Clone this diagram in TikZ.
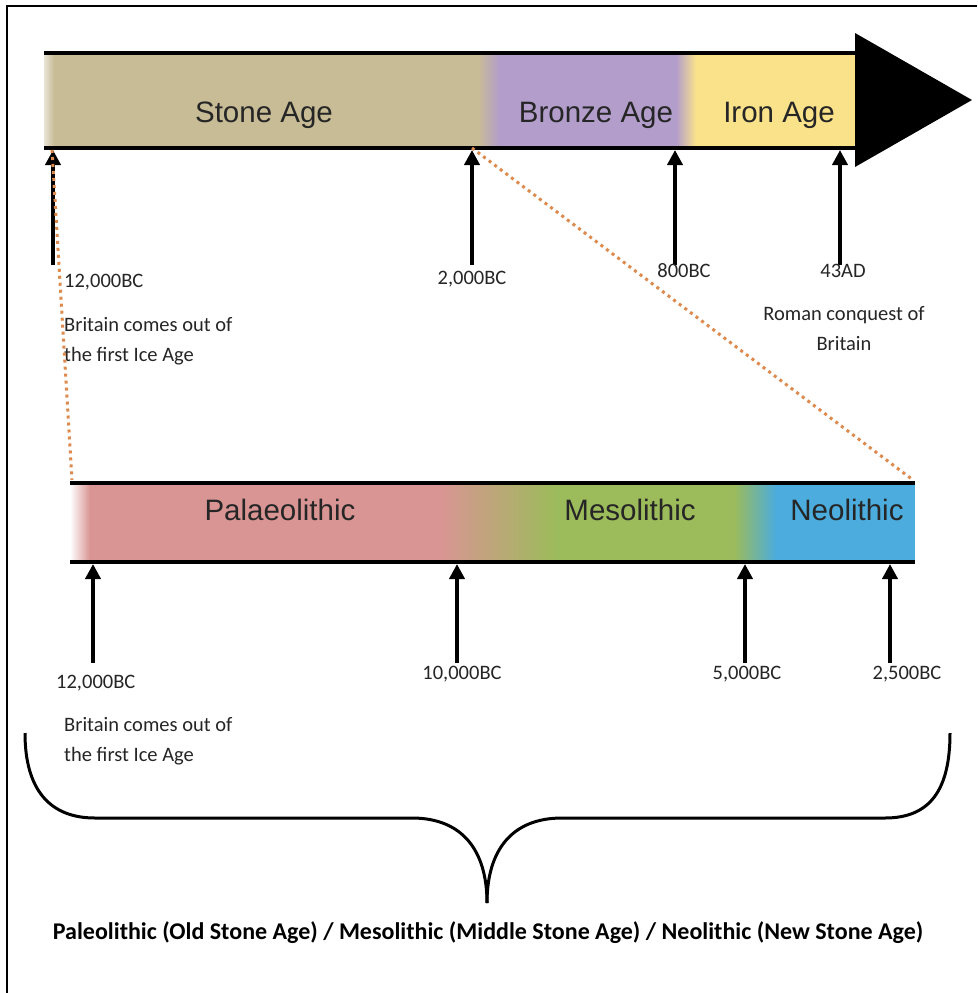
\documentclass[tikz,border=0pt]{standalone}
\usepackage{fontspec}
\setmainfont{Carlito}
\newfontfamily\arialf{Liberation Sans}
\usetikzlibrary{arrows.meta}
\definecolor{stonec}{HTML}{C8BC96}
\definecolor{bronzec}{HTML}{B29DCB}
\definecolor{ironc}{HTML}{FAE28A}
\definecolor{palaeoc}{HTML}{D99594}
\definecolor{mesoc}{HTML}{9CBB5A}
\definecolor{neoc}{HTML}{4BACDD}
\definecolor{dotc}{HTML}{DC8A4E}
\tikzset{
  barline/.style={line width=4pt, black},
  uparrow/.style={line width=4pt, black, -{Triangle[width=15pt,length=15pt]}},
  barlabel/.style={font=\arialf\fontsize{29.5}{31}\selectfont, text=black!85, inner sep=0pt},
  datelabel/.style={font=\fontsize{20.5}{30}\selectfont, text=black!85, inner sep=0pt},
  dotline/.style={dotc, line width=3pt, dash pattern=on 3pt off 4pt},
  bracestyle/.style={line width=3pt, black},
  frameline/.style={line width=2pt, black}
}
\begin{document}
\begin{tikzpicture}[x=1pt,y=-1pt]
\useasboundingbox[fill=white] (0,0) rectangle (977,993);
% frame
\draw[frameline] (7,993) -- (7,6) -- (977,6);

% ---------- top bar ----------
\shade[left color=stonec!40!white, right color=stonec] (44,53) rectangle (54,148);
\fill[stonec] (54,53) rectangle (478,148);
\shade[left color=stonec, right color=bronzec] (478,53) rectangle (500,148);
\fill[bronzec] (500,53) rectangle (676,148);
\shade[left color=bronzec, right color=ironc] (676,53) rectangle (696,148);
\fill[ironc] (696,53) rectangle (856,148);
\draw[barline] (44,53) -- (856,53);
\draw[barline] (44,148) -- (856,148);
\fill[black] (855,33) -- (972,100) -- (855,167) -- cycle;

\node[barlabel] (stone) at (264,115) {Stone Age};
\node[barlabel] (bronze) at (596,115) {Bronze Age};
\node[barlabel] (iron) at (779,115) {Iron Age};

% top arrows
\coordinate (t1top) at (53,150);  \coordinate (t1bot) at (53,265);
\coordinate (t2top) at (472,150); \coordinate (t2bot) at (472,265);
\coordinate (t3top) at (675,150); \coordinate (t3bot) at (675,265);
\coordinate (t4top) at (840,150); \coordinate (t4bot) at (840,265);
\draw[uparrow] (t1bot) -- (t1top);
\draw[uparrow] (t2bot) -- (t2top);
\draw[uparrow] (t3bot) -- (t3top);
\draw[uparrow] (t4bot) -- (t4top);

% top labels
\node[datelabel, anchor=west] (d12a) at (64,282) {12,000BC};
\node[datelabel, anchor=west, align=left] (brita) at (64,341) {Britain comes out of\\the first Ice Age};
\node[datelabel] (d2000) at (472,279) {2,000BC};
\node[datelabel] (d800) at (684,271) {800BC};
\node[datelabel] (d43) at (843,271) {43AD};
\node[datelabel, align=center] (roman) at (844,329) {Roman conquest of\\Britain};

% ---------- bottom bar ----------
\shade[left color=white, right color=palaeoc] (70,483) rectangle (90,562);
\fill[palaeoc] (90,483) rectangle (440,562);
\shade[left color=palaeoc, right color=mesoc] (440,483) rectangle (556,562);
\fill[mesoc] (556,483) rectangle (734,562);
\shade[left color=mesoc, right color=neoc] (734,483) rectangle (776,562);
\fill[neoc] (776,483) rectangle (915,562);
\draw[barline] (70,483) -- (915,483);
\draw[barline] (70,562) -- (915,562);

\node[barlabel] (palaeo) at (280,510) {Palaeolithic};
\node[barlabel] (meso) at (630,510) {Mesolithic};
\node[barlabel] (neo) at (847,510) {Neolithic};

% bottom arrows
\coordinate (b1top) at (93,564);  \coordinate (b1bot) at (93,663);
\coordinate (b2top) at (457,564); \coordinate (b2bot) at (457,663);
\coordinate (b3top) at (745,564); \coordinate (b3bot) at (745,663);
\coordinate (b4top) at (890,564); \coordinate (b4bot) at (890,663);
\draw[uparrow] (b1bot) -- (b1top);
\draw[uparrow] (b2bot) -- (b2top);
\draw[uparrow] (b3bot) -- (b3top);
\draw[uparrow] (b4bot) -- (b4top);

\node[datelabel, anchor=west] (d12b) at (56,683) {12,000BC};
\node[datelabel, anchor=west, align=left] (britb) at (64,741) {Britain comes out of\\the first Ice Age};
\node[datelabel] (d10000) at (462,674) {10,000BC};
\node[datelabel] (d5000) at (747,674) {5,000BC};
\node[datelabel] (d2500) at (907,674) {2,500BC};

% dotted zoom lines
\coordinate (zl1) at (52,150); \coordinate (zl2) at (72,480);
\coordinate (zr1) at (472,148); \coordinate (zr2) at (913,480);
\draw[dotline] (zl1) -- (zl2);
\draw[dotline] (zr1) -- (zr2);

% brace
\draw[bracestyle] (25,733) .. controls (25,790) and (50,818) .. (95,818) -- (412,818)
  .. controls (462,818) and (487,850) .. (487,903);
\draw[bracestyle] (487,903) .. controls (487,850) and (512,818) .. (562,818) -- (885,818)
  .. controls (930,818) and (950,790) .. (950,733);

\node[font=\bfseries\fontsize{24}{27}\selectfont, inner sep=0pt] (caption) at (488,933)
  {Paleolithic (Old Stone Age) / Mesolithic (Middle Stone Age) / Neolithic (New Stone Age)};
\end{tikzpicture}
\end{document}
